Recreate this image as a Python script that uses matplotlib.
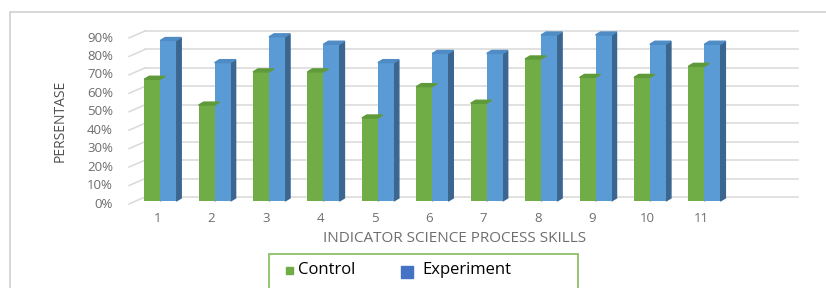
import matplotlib.pyplot as plt
from matplotlib.patches import Polygon, Rectangle
import matplotlib.transforms as mtransforms

# data (percent)
indicators = [str(i) for i in range(1, 12)]
control = [66, 52, 70, 70, 45, 62, 53, 77, 67, 67, 73]
experiment = [87, 75, 89, 85, 75, 80, 80, 90, 90, 85, 85]
y_ticks = [0, 10, 20, 30, 40, 50, 60, 70, 80, 90]
series_names = ['Control', 'Experiment']

green, green_side, green_top = '#70AD47', '#4E7D31', '#5F9A3A'
blue, blue_side, blue_top = '#5B9BD5', '#3A6690', '#4F8BC4'
grid_c = '#D9D9D9'
txt_c = '#6E6E6E'

plt.rcParams['font.family'] = ['Open Sans', 'DejaVu Sans']

W, H = 826, 288
fig = plt.figure(figsize=(W / 100, H / 100), dpi=100)

# outer light border
fig.patches.append(Rectangle((10 / W, -0.1), 1.0, 1 - 12 / H + 0.1, transform=fig.transFigure,
                             fill=False, edgecolor='#D0D0D0', lw=1.2))

# front plane of the 3D plot
left, right, y0, y90 = 133, 786, 201, 35
ax = fig.add_axes([left / W, 1 - y0 / H, (right - left) / W, (y0 - y90) / H])
ax.set_xlim(0.5, 12.5)
ax.set_ylim(0, 90)
ax.axis('off')

px_x = (right - left) / 12.0      # pixels per category
px_y = (y0 - y90) / 90.0          # pixels per percent

# back wall gridlines with a slanted floor stub
back = ax.transData + mtransforms.ScaledTranslation(12 / 100, 4 / 100, fig.dpi_scale_trans)
front = ax.transData + mtransforms.ScaledTranslation(-4 / 100, -3 / 100, fig.dpi_scale_trans)
for v in y_ticks:
    ax.plot([0.5, 12.5], [v, v], color=grid_c, lw=1.1, transform=back, clip_on=False, zorder=0)
    p0 = front.transform((0.5, v))
    p1 = back.transform((0.5, v))
    fig.add_artist(plt.Line2D([p0[0] / W, p1[0] / W], [p0[1] / H, p1[1] / H],
                              color=grid_c, lw=1.1, zorder=0))
    ax.text(0.5 - 16 / px_x, v, f'{v}%', transform=front, ha='right', va='center',
            fontsize=9.5, color=txt_c, clip_on=False)

# bars with a shallow 3D side/top
bw = 16 / px_x
ddx, ddy = 5 / px_x, 3 / px_y
xs = list(range(1, 12))
for i, x in enumerate(xs):
    for val, xl, face, side, top in [(control[i], x - bw, green, green_side, green_top),
                                     (experiment[i], x, blue, blue_side, blue_top)]:
        ax.bar(xl, val, width=bw, align='edge', color=face, zorder=3)
        ax.add_patch(Polygon([(xl + bw, 0), (xl + bw + ddx, ddy), (xl + bw + ddx, val + ddy),
                              (xl + bw, val)], closed=True, color=side, zorder=2, clip_on=False))
        ax.add_patch(Polygon([(xl, val), (xl + ddx, val + ddy), (xl + bw + ddx, val + ddy),
                              (xl + bw, val)], closed=True, color=top, zorder=4, clip_on=False))

# category labels
for x, lab in zip(xs, indicators):
    ax.text(x - 3 / px_x, -18 / px_y, lab, ha='center', va='center',
            fontsize=9.5, color=txt_c, clip_on=False)

fig.text(455 / W, 1 - 239 / H, 'INDICATOR SCIENCE PROCESS SKILLS', ha='center', va='center',
         fontsize=11, color=txt_c)
fig.text(60 / W, 1 - 121 / H, 'PERSENTASE', ha='center', va='center', rotation=90,
         fontsize=10, color='#505050', family=['Liberation Sans Narrow', 'Open Sans'])

# legend box (cut off by the bottom edge, as in the original)
fig.patches.append(Rectangle((269 / W, -0.1), 309 / W, 0.1 + 1 - 254 / H, transform=fig.transFigure,
                             fill=False, edgecolor='#8CC068', lw=1.3))
fig.patches.append(Rectangle((286 / W, 1 - 274 / H), 7 / W, 7 / H, transform=fig.transFigure,
                             color=green))
fig.patches.append(Rectangle((401 / W, 1 - 278 / H), 12 / W, 12 / H, transform=fig.transFigure,
                             color='#4472C4'))
fig.text(298 / W, 1 - 274 / H, series_names[0], ha='left', va='baseline', fontsize=12, color='black')
fig.text(422 / W, 1 - 274 / H, series_names[1], ha='left', va='baseline', fontsize=12, color='black')

fig.savefig('out.png', dpi=100)
